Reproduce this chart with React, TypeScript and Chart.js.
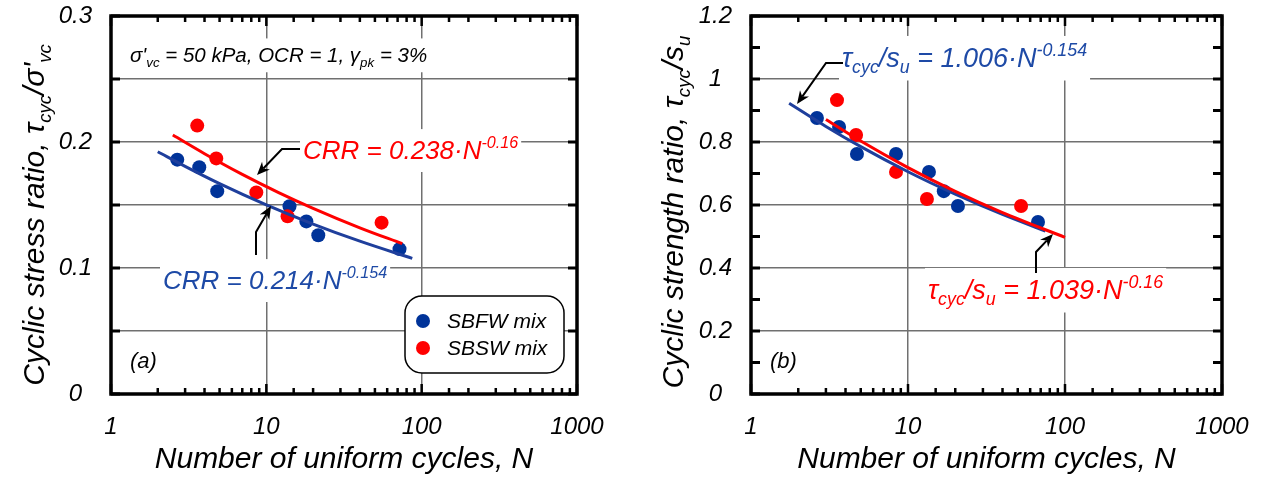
import React, { useEffect, useRef } from 'react';
import { Chart, registerables } from 'chart.js';
Chart.register(...registerables);

const FONT = "'Liberation Sans', Arial, Helvetica, sans-serif";
Chart.defaults.font.family = FONT;

// ---------- Panel (a): cyclic stress ratio ----------
const sbfwN_a = [2.67, 3.7, 4.83, 14.1, 18.1, 21.6, 72];
const sbfwCSR_a = [0.186, 0.18, 0.161, 0.149, 0.137, 0.126, 0.115];
const sbswN_a = [3.59, 4.76, 8.62, 13.7, 55.2];
const sbswCSR_a = [0.213, 0.187, 0.16, 0.141, 0.136];
// fitted curves
const fitBlueN_a = [2, 3, 5, 10, 20, 40, 87];
const fitBlueCSR_a = [0.1923, 0.1807, 0.167, 0.1501, 0.1349, 0.1213, 0.1076];
const fitRedN_a = [2.5, 4, 7, 12, 20, 40, 75];
const fitRedCSR_a = [0.2055, 0.1907, 0.1743, 0.1599, 0.1474, 0.1319, 0.1193];

// ---------- Panel (b): cyclic strength ratio ----------
const sbfwN_b = [2.63, 3.64, 4.73, 8.39, 13.6, 16.9, 20.8, 67.3];
const sbfwCSR_b = [0.876, 0.848, 0.762, 0.762, 0.705, 0.644, 0.597, 0.546];
const sbswN_b = [3.53, 4.67, 8.39, 13.2, 52.5];
const sbswCSR_b = [0.933, 0.822, 0.705, 0.619, 0.597];
const fitBlueN_b = [1.75, 3, 5, 10, 20, 40, 75];
const fitBlueCSR_b = [0.9229, 0.8494, 0.7852, 0.7056, 0.6343, 0.57, 0.5174];
const fitRedN_b = [3, 5, 10, 20, 40, 100];
const fitRedCSR_b = [0.8715, 0.8031, 0.7188, 0.6433, 0.5758, 0.4973];

const xTickLabels = ['1', '10', '100', '1000'];
const yTickLabels_a = ['0', '0.1', '0.2', '0.3'];
const yTickLabels_b = ['0', '0.2', '0.4', '0.6', '0.8', '1', '1.2'];

const seriesNames = ['SBFW mix', 'SBSW mix'];

const BLUE = '#003399';
const BLUE_LINE = '#1f3f9c';
const BLUE_TEXT = '#1e4aa6';
const RED = '#ff0000';
const GRID = '#707070';

type Part = { t: string; k?: 'sub' | 'sup' };

function fontStr(size: number) {
  return `italic ${size}px ${FONT}`;
}

function measureRich(ctx: CanvasRenderingContext2D, parts: Part[], size: number, ratio: number) {
  let w = 0;
  for (const p of parts) {
    ctx.font = fontStr(p.k ? size * ratio : size);
    w += ctx.measureText(p.t).width;
  }
  return w;
}

function drawRich(
  ctx: CanvasRenderingContext2D,
  parts: Part[],
  x: number,
  y: number,
  size: number,
  color: string,
  align: 'left' | 'center' = 'left',
  ratio = 0.62
) {
  const w = measureRich(ctx, parts, size, ratio);
  let cx = align === 'center' ? x - w / 2 : x;
  ctx.fillStyle = color;
  ctx.textBaseline = 'alphabetic';
  ctx.textAlign = 'left';
  for (const p of parts) {
    const s = p.k ? size * ratio : size;
    ctx.font = fontStr(s);
    const dy = p.k === 'sub' ? size * 0.22 : p.k === 'sup' ? -size * 0.42 : 0;
    ctx.fillText(p.t, cx, y + dy);
    cx += ctx.measureText(p.t).width;
  }
  return w;
}

function drawArrow(ctx: CanvasRenderingContext2D, pts: number[][]) {
  const n = pts.length;
  const tx = pts[n - 1][0];
  const ty = pts[n - 1][1];
  const px = pts[n - 2][0];
  const py = pts[n - 2][1];
  const ang = Math.atan2(ty - py, tx - px);
  const L = 13;
  const W = 5.5;
  const c = Math.cos(ang);
  const s = Math.sin(ang);
  const bx = tx - c * L * 0.7;
  const by = ty - s * L * 0.7;
  ctx.save();
  ctx.strokeStyle = '#000';
  ctx.fillStyle = '#000';
  ctx.lineWidth = 2;
  ctx.beginPath();
  ctx.moveTo(pts[0][0], pts[0][1]);
  for (let i = 1; i < n - 1; i++) ctx.lineTo(pts[i][0], pts[i][1]);
  ctx.lineTo(bx, by);
  ctx.stroke();
  ctx.beginPath();
  ctx.moveTo(tx, ty);
  ctx.lineTo(tx - L * c + W * s, ty - L * s - W * c);
  ctx.lineTo(bx, by);
  ctx.lineTo(tx - L * c - W * s, ty - L * s + W * c);
  ctx.closePath();
  ctx.fill();
  ctx.restore();
}

type Eq = { parts: Part[]; x: number; y: number; size: number; color: string; ratio: number };

type Decor = {
  yTitle: Part[];
  yTitleX: number;
  yTitleY: number;
  eqs: Eq[];
  arrows: number[][][];
  panel: string;
  legend: { x: number; y: number; w: number; h: number } | null;
};

const decorStore: Record<string, Decor> = {};

const annotPlugin = {
  id: 'annotLayer',
  afterDraw(chart: any) {
    const d = decorStore[chart.canvas.id];
    if (!d) return;
    const ctx: CanvasRenderingContext2D = chart.ctx;
    ctx.save();
    for (const e of d.eqs) {
      const w = measureRich(ctx, e.parts, e.size, e.ratio);
      ctx.fillStyle = '#fff';
      ctx.fillRect(e.x - 3, e.y - e.size * 1.15, w + 6, e.size * 1.65);
      drawRich(ctx, e.parts, e.x, e.y, e.size, e.color, 'left', e.ratio);
    }
    for (const ar of d.arrows) drawArrow(ctx, ar);

    if (d.legend) {
      const L = d.legend;
      const r = 17;
      ctx.beginPath();
      ctx.moveTo(L.x + r, L.y);
      ctx.arcTo(L.x + L.w, L.y, L.x + L.w, L.y + L.h, r);
      ctx.arcTo(L.x + L.w, L.y + L.h, L.x, L.y + L.h, r);
      ctx.arcTo(L.x, L.y + L.h, L.x, L.y, r);
      ctx.arcTo(L.x, L.y, L.x + L.w, L.y, r);
      ctx.closePath();
      ctx.fillStyle = '#fff';
      ctx.fill();
      ctx.lineWidth = 1.5;
      ctx.strokeStyle = '#000';
      ctx.stroke();
      const ds = chart.data.datasets.filter((q: any) => !q.showLine);
      ds.forEach((q: any, i: number) => {
        const cy = L.y + 25 + i * 27;
        ctx.beginPath();
        ctx.arc(L.x + 18, cy, 7, 0, Math.PI * 2);
        ctx.fillStyle = q.backgroundColor;
        ctx.fill();
        ctx.fillStyle = '#000';
        ctx.font = fontStr(21);
        ctx.textAlign = 'left';
        ctx.textBaseline = 'middle';
        ctx.fillText(q.label, L.x + 42, cy + 1);
      });
    }

    ctx.font = fontStr(22);
    ctx.fillStyle = '#000';
    ctx.textAlign = 'left';
    ctx.textBaseline = 'alphabetic';
    ctx.fillText(d.panel, 130, 368);

    ctx.translate(d.yTitleX, d.yTitleY);
    ctx.rotate(-Math.PI / 2);
    drawRich(ctx, d.yTitle, 0, 11, 30, '#000', 'center', 0.62);
    ctx.restore();
  },
};

const framePlugin = {
  id: 'frameLayer',
  afterDraw(chart: any) {
    const ctx: CanvasRenderingContext2D = chart.ctx;
    const xs = chart.scales.x;
    const ys = chart.scales.y;
    const L = xs.left;
    const R = xs.right;
    const T = ys.top;
    const B = ys.bottom;
    ctx.save();
    ctx.strokeStyle = 'black';
    ctx.lineWidth = 2.5;
    const xt = xs.ticks;
    for (let i = 0; i < xt.length; i++) {
      const v = xt[i].value;
      const lg = Math.log10(v);
      const len = Math.abs(lg - Math.round(lg)) < 1e-9 ? 10 : 6;
      const px = xs.getPixelForValue(v);
      ctx.beginPath();
      ctx.moveTo(px, B);
      ctx.lineTo(px, B - len);
      ctx.moveTo(px, T);
      ctx.lineTo(px, T + len);
      ctx.stroke();
    }
    ctx.lineWidth = 3;
    const yt = ys.ticks;
    for (let i = 0; i < yt.length; i++) {
      const py = ys.getPixelForValue(yt[i].value);
      ctx.beginPath();
      ctx.moveTo(L, py);
      ctx.lineTo(L + 9, py);
      ctx.moveTo(R, py);
      ctx.lineTo(R - 9, py);
      ctx.stroke();
    }
    ctx.lineWidth = 3.5;
    ctx.strokeRect(L, T, R - L, B - T);
    ctx.restore();
  },
};

function isPow10(v: number) {
  const lg = Math.log10(v);
  return Math.abs(lg - Math.round(lg)) < 1e-9;
}

function makeConfig(opts: {
  blueN: number[];
  blueV: number[];
  redN: number[];
  redV: number[];
  fbN: number[];
  fbV: number[];
  frN: number[];
  frV: number[];
  yMax: number;
  yStep: number;
  labelEvery: number;
  gridEvery: number;
  yLabels: string[];
  padRight: number;
}) {
  const toPts = (xs: number[], ys: number[]) => xs.map((x, i) => ({ x, y: ys[i] }));
  const near = (v: number, step: number) => {
    const r = v / step;
    return Math.abs(r - Math.round(r)) < 1e-6;
  };
  return {
    type: 'scatter',
    data: {
      datasets: [
        {
          label: 'fit ' + seriesNames[1],
          data: toPts(opts.frN, opts.frV),
          showLine: true,
          borderColor: RED,
          borderWidth: 3,
          pointRadius: 0,
          cubicInterpolationMode: 'monotone',
          order: 1,
        },
        {
          label: 'fit ' + seriesNames[0],
          data: toPts(opts.fbN, opts.fbV),
          showLine: true,
          borderColor: BLUE_LINE,
          borderWidth: 3,
          pointRadius: 0,
          cubicInterpolationMode: 'monotone',
          order: 2,
        },
        {
          label: seriesNames[0],
          data: toPts(opts.blueN, opts.blueV),
          showLine: false,
          backgroundColor: BLUE,
          borderColor: BLUE,
          pointRadius: 7,
          pointBorderWidth: 0,
          order: 4,
        },
        {
          label: seriesNames[1],
          data: toPts(opts.redN, opts.redV),
          showLine: false,
          backgroundColor: RED,
          borderColor: RED,
          pointRadius: 7,
          pointBorderWidth: 0,
          order: 3,
        },
      ],
    },
    options: {
      animation: false,
      responsive: false,
      devicePixelRatio: 1,
      events: [],
      layout: { padding: { left: 0, right: opts.padRight, top: 16, bottom: 0 } },
      plugins: {
        legend: { display: false },
        tooltip: { enabled: false },
      },
      scales: {
        x: {
          type: 'logarithmic',
          min: 1,
          max: 1000,
          afterFit: (s: any) => {
            s.height = 84;
            s.paddingLeft = 0;
            s.paddingRight = 0;
          },
          border: { display: false },
          grid: {
            drawTicks: false,
            lineWidth: 1.5,
            color: (c: any) => {
              const v = c.tick ? c.tick.value : 0;
              return isPow10(v) && v > 1 && v < 1000 ? GRID : 'rgba(0,0,0,0)';
            },
          },
          ticks: {
            autoSkip: false,
            maxRotation: 0,
            minRotation: 0,
            padding: 19,
            color: '#000',
            font: { size: 24, style: 'italic' },
            callback: (v: any) => {
              const n = Number(v);
              if (!isPow10(n)) return '';
              return xTickLabels[Math.round(Math.log10(n))];
            },
          },
          title: {
            display: true,
            text: 'Number of uniform cycles, N',
            color: '#000',
            font: { size: 30, style: 'italic' },
            padding: { top: 0, bottom: 0 },
          },
        },
        y: {
          type: 'linear',
          min: 0,
          max: opts.yMax,
          afterFit: (s: any) => {
            s.width = 111;
            s.paddingTop = 0;
            s.paddingBottom = 0;
          },
          border: { display: false },
          grid: {
            drawTicks: false,
            lineWidth: 1.5,
            color: (c: any) => {
              const v = c.tick ? c.tick.value : 0;
              return near(v, opts.gridEvery) && v > 1e-9 && v < opts.yMax - 1e-9 ? GRID : 'rgba(0,0,0,0)';
            },
          },
          ticks: {
            stepSize: opts.yStep,
            autoSkip: false,
            padding: 19,
            crossAlign: 'center',
            color: '#000',
            font: { size: 24, style: 'italic' },
            callback: (v: any) => {
              const n = Number(v);
              if (!near(n, opts.labelEvery)) return '';
              return opts.yLabels[Math.round(n / opts.labelEvery)];
            },
          },
        },
      },
    },
    plugins: [annotPlugin, framePlugin],
  };
}

const eqRedA: Part[] = [{ t: 'CRR = 0.238·N' }, { t: '-0.16', k: 'sup' }];
const eqBlueA: Part[] = [{ t: 'CRR = 0.214·N' }, { t: '-0.154', k: 'sup' }];
const noteA: Part[] = [
  { t: "σ'" },
  { t: 'vc', k: 'sub' },
  { t: ' = 50 kPa, OCR = 1, γ' },
  { t: 'pk', k: 'sub' },
  { t: ' = 3%' },
];
const eqBlueB: Part[] = [
  { t: 'τ' },
  { t: 'cyc', k: 'sub' },
  { t: '/s' },
  { t: 'u', k: 'sub' },
  { t: ' = 1.006·N' },
  { t: '-0.154', k: 'sup' },
];
const eqRedB: Part[] = [
  { t: 'τ' },
  { t: 'cyc', k: 'sub' },
  { t: '/s' },
  { t: 'u', k: 'sub' },
  { t: ' = 1.039·N' },
  { t: '-0.16', k: 'sup' },
];
const yTitleA: Part[] = [
  { t: 'Cyclic stress ratio, τ' },
  { t: 'cyc', k: 'sub' },
  { t: "/σ'" },
  { t: 'vc', k: 'sub' },
];
const yTitleB: Part[] = [
  { t: 'Cyclic strength ratio, τ' },
  { t: 'cyc', k: 'sub' },
  { t: '/s' },
  { t: 'u', k: 'sub' },
];

decorStore['chartA'] = {
  yTitle: yTitleA,
  yTitleX: 33,
  yTitleY: 215,
  eqs: [
    { parts: noteA, x: 130, y: 62, size: 20.5, color: '#000', ratio: 0.65 },
    { parts: eqRedA, x: 303, y: 159, size: 26, color: RED, ratio: 0.62 },
    { parts: eqBlueA, x: 163, y: 289, size: 26, color: BLUE_TEXT, ratio: 0.62 },
  ],
  arrows: [
    [
      [300, 149],
      [282, 149],
      [257, 175],
    ],
    [
      [256, 255],
      [256, 232],
      [271, 206],
    ],
  ],
  panel: '(a)',
  legend: { x: 405, y: 296, w: 159, h: 77 },
};

decorStore['chartB'] = {
  yTitle: yTitleB,
  yTitleX: 32,
  yTitleY: 212,
  eqs: [
    { parts: eqBlueB, x: 202, y: 67, size: 27, color: BLUE_TEXT, ratio: 0.66 },
    { parts: eqRedB, x: 288, y: 299, size: 27, color: RED, ratio: 0.66 },
  ],
  arrows: [
    [
      [203, 63],
      [186, 63],
      [157, 104],
    ],
    [
      [396, 273],
      [396, 252],
      [413, 234],
    ],
  ],
  panel: '(b)',
  legend: null,
};

const configA = () =>
  makeConfig({
    blueN: sbfwN_a,
    blueV: sbfwCSR_a,
    redN: sbswN_a,
    redV: sbswCSR_a,
    fbN: fitBlueN_a,
    fbV: fitBlueCSR_a,
    frN: fitRedN_a,
    frV: fitRedCSR_a,
    yMax: 0.3,
    yStep: 0.05,
    labelEvery: 0.1,
    gridEvery: 0.05,
    yLabels: yTickLabels_a,
    padRight: 63,
  });

const configB = () =>
  makeConfig({
    blueN: sbfwN_b,
    blueV: sbfwCSR_b,
    redN: sbswN_b,
    redV: sbswCSR_b,
    fbN: fitBlueN_b,
    fbV: fitBlueCSR_b,
    frN: fitRedN_b,
    frV: fitRedCSR_b,
    yMax: 1.2,
    yStep: 0.1,
    labelEvery: 0.2,
    gridEvery: 0.2,
    yLabels: yTickLabels_b,
    padRight: 41,
  });

function Panel({ id, left, width, make }: { id: string; left: number; width: number; make: () => any }) {
  const ref = useRef<HTMLCanvasElement | null>(null);
  useEffect(() => {
    if (!ref.current) return;
    const chart = new Chart(ref.current, make());
    return () => chart.destroy();
  }, []);
  return (
    <canvas
      id={id}
      ref={ref}
      width={width}
      height={478}
      style={{ position: 'absolute', left, top: 0, width, height: 478, display: 'block' }}
    />
  );
}

export default function App() {
  return (
    <div
      style={{
        position: 'fixed',
        left: 0,
        top: 0,
        width: 1263,
        height: 478,
        background: '#fff',
        overflow: 'hidden',
      }}
    >
      <Panel id="chartA" left={0} width={640} make={configA} />
      <Panel id="chartB" left={640} width={623} make={configB} />
    </div>
  );
}
